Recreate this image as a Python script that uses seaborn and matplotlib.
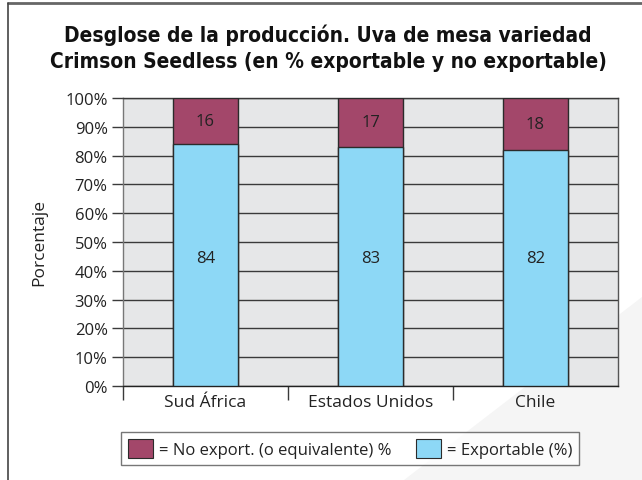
import matplotlib
matplotlib.use("Agg")
import matplotlib.pyplot as plt
import seaborn as sns
import pandas as pd
from matplotlib.patches import Patch, Polygon
from matplotlib.lines import Line2D

categories = ["Sud África", "Estados Unidos", "Chile"]
exportable = [84, 83, 82]
no_export = [16, 17, 18]
y_ticks = [0, 10, 20, 30, 40, 50, 60, 70, 80, 90, 100]

BLUE = "#8DD8F6"
MAROON = "#A3476A"
EDGE = "#2b2b2b"

sns.set_theme(style="white")
plt.rcParams['font.family'] = ['Open Sans', 'DejaVu Sans']

df = pd.DataFrame({"cat": categories, "exp": exportable,
                   "tot": [e + n for e, n in zip(exportable, no_export)]})

fig = plt.figure(figsize=(6.42, 4.81), dpi=100)
fig.patch.set_facecolor("white")

# faint decorative shape bottom right (behind everything)
fig.patches.append(Polygon([[0.63, 0.0], [1.0, 0.0], [1.0, 0.38]], closed=True,
                           transform=fig.transFigure, facecolor="#f5f5f5",
                           edgecolor="none", zorder=-10))

ax = fig.add_axes([123/642, 1-387/481, 495/642, 288/481])
ax.set_facecolor("#E6E7E8")

sns.barplot(data=df, x="cat", y="tot", color=MAROON, width=0.39,
            edgecolor=EDGE, linewidth=1.0, saturation=1, ax=ax, zorder=3)
sns.barplot(data=df, x="cat", y="exp", color=BLUE, width=0.39,
            edgecolor=EDGE, linewidth=1.0, saturation=1, ax=ax, zorder=4)

for i, (e, n) in enumerate(zip(exportable, no_export)):
    ax.text(i, 44.5, f"{e}", ha="center", va="center", fontsize=12,
            color="#222222", zorder=5)
    ax.text(i, e + n / 2, f"{n}", ha="center", va="center", fontsize=12,
            color="#222222", zorder=5)

ax.set_xlim(-0.5, 2.5)
ax.set_ylim(0, 100)
ax.set_yticks(y_ticks)
ax.set_yticklabels([f"{t}%" for t in y_ticks], fontsize=12, color="#222222")
for t in y_ticks:
    ax.axhline(t, color="#3a3a3a", linewidth=1.0, zorder=1)
ax.tick_params(axis="y", which="major", length=8, width=1.0, color="#3a3a3a",
               direction="out", pad=3, left=True)

ax.set_xticks([0, 1, 2])
ax.set_xticklabels(categories, fontsize=12.5, color="#222222")
ax.set_xticks([-0.5, 0.5, 1.5], minor=True)
ax.tick_params(axis="x", which="major", length=0, pad=6)
ax.tick_params(axis="x", which="minor", length=10, width=1.0, color="#3a3a3a",
               direction="out", bottom=True)

ax.set_xlabel("")
ax.set_ylabel("Porcentaje", fontsize=12.5, color="#222222", labelpad=13)

for s in ["left", "right", "top", "bottom"]:
    ax.spines[s].set_visible(True)
    ax.spines[s].set_linewidth(1.0)
ax.spines["left"].set_color("#777777")
ax.spines["right"].set_color("#555555")
ax.spines["top"].set_color("#3a3a3a")
ax.spines["bottom"].set_color("#222222")

title_kw = dict(ha="center", va="center", fontsize=15, fontweight="bold",
                fontstretch="condensed", family=["DejaVu Sans"], color="#111111")
fig.text(0.511, 1-35/481, "Desglose de la producción. Uva de mesa variedad", **title_kw)
fig.text(0.511, 1-62/481, "Crimson Seedless (en % exportable y no exportable)", **title_kw)

# figure frame (top & left)
fig.add_artist(Line2D([8/642, 1.0], [1-4/481, 1-4/481], transform=fig.transFigure,
                      color="#666666", linewidth=2.0))
fig.add_artist(Line2D([8/642, 8/642], [0, 1-4/481], transform=fig.transFigure,
                      color="#444444", linewidth=1.2))

handles = [Patch(facecolor=MAROON, edgecolor=EDGE, linewidth=0.8),
           Patch(facecolor=BLUE, edgecolor=EDGE, linewidth=0.8)]
labels = ["= No export. (o equivalente) %", "= Exportable (%)"]
leg = fig.legend(handles, labels, loc="center", bbox_to_anchor=(350/642, 1-449.5/481),
                 ncol=2, frameon=True, fontsize=12, handlelength=1.5,
                 handleheight=1.4, handletextpad=0.35, columnspacing=1.5,
                 borderpad=0.4, fancybox=False, edgecolor="#555555")
leg.get_frame().set_linewidth(1.0)
for t in leg.get_texts():
    t.set_color("#222222")

fig.savefig("out.png", dpi=100, facecolor="white")
